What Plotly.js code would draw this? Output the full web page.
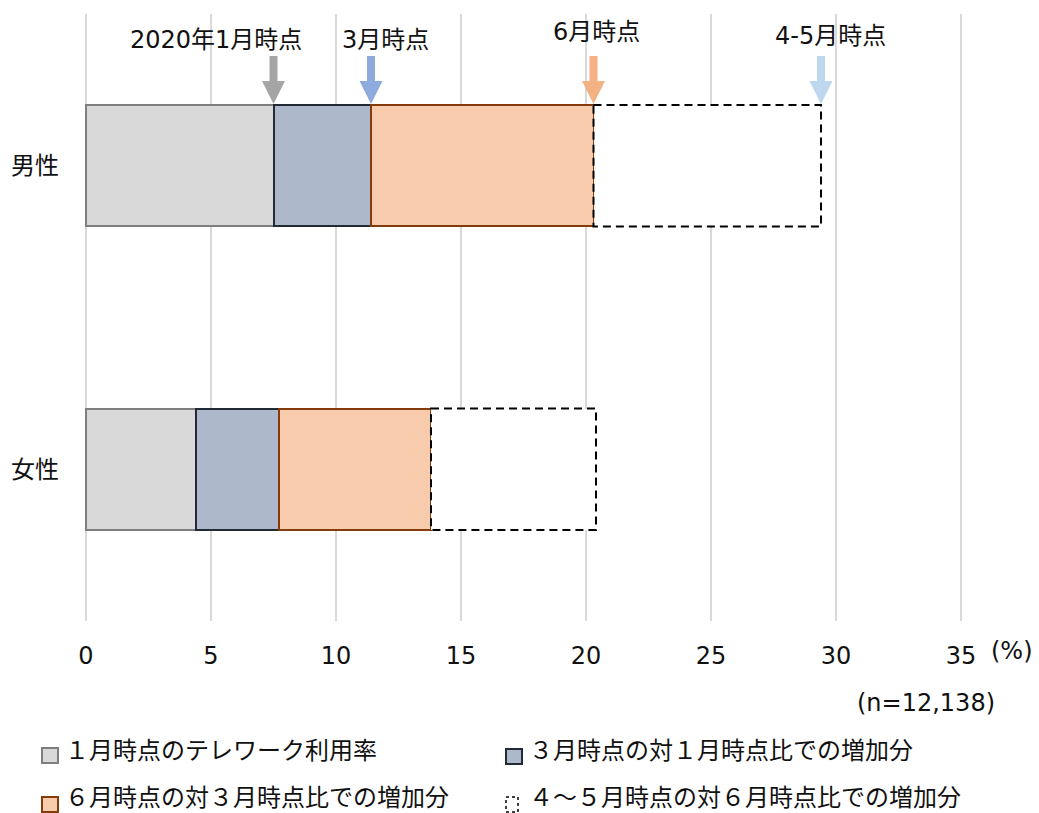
<!DOCTYPE html>
<html>
<head>
<meta charset="utf-8">
<script src="https://cdn.plot.ly/plotly-3.0.1.min.js"></script>
<style>
  html, body { margin: 0; padding: 0; background: #ffffff; }
  #chart { width: 1039px; height: 813px; }
</style>
</head>
<body>
<div id="chart"></div>
<script>
// Telework usage by gender: January base rate and the increments up to March, June and April-May
const groups = ['男性', '女性'];
const janRate = [7.5, 4.4];      // 1月時点のテレワーク利用率
const marchGain = [3.9, 3.3];    // 3月時点の対1月時点比での増加分
const juneGain = [8.9, 6.1];     // 6月時点の対3月時点比での増加分
const aprMayGain = [9.1, 6.6];   // 4～5月時点の対6月時点比での増加分

const seriesNames = [
  '１月時点のテレワーク利用率',
  '３月時点の対１月時点比での増加分',
  '６月時点の対３月時点比での増加分',
  '４～５月時点の対６月時点比での増加分'
];
const pointLabels = ['2020年1月時点', '3月時点', '6月時点', '4-5月時点'];
const tickValues = [0, 5, 10, 15, 20, 25, 30, 35];
const unitLabel = '(%)';
const sampleNote = '(n=12,138)';

// ---- styling -------------------------------------------------------------
const FONT = '"DejaVu Sans", "Noto Sans CJK JP", sans-serif';
const TEXT_COLOR = '#111111';
const fills = ['#D9D9D9', '#ADB9CA', '#F8CBAD', '#FFFFFF'];
const edges = ['#7F7F7F', '#222A35', '#843C0C', '#000000'];
const arrowColors = ['#A5A5A5', '#8FAADC', '#F4B183', '#BDD7EE'];
const BAR_WIDTH = 0.4;

// plot area in page pixels (used for items placed outside the axes);
// the x range is padded slightly so the 0 and 35 grid lines are kept
const M = { l: 84, r: 76, t: 14, b: 192 };
const X_RANGE = [-0.08, 35.08];
const W = 1039 - M.l - M.r;
const H = 813 - M.t - M.b;
const px = p => (p - M.l) / W;
const py = p => (M.t + H - p) / H;

// running totals = right edge of each segment
const segments = [janRate, marchGain, juneGain, aprMayGain];
const cumulative = [];
segments.forEach((seg, k) => {
  cumulative.push(seg.map((v, i) => +(v + (k ? cumulative[k - 1][i] : 0)).toFixed(2)));
});

// ---- traces ----------------------------------------------------------------
const traces = segments.map((seg, k) => ({
  type: 'bar',
  orientation: 'h',
  name: seriesNames[k],
  y: groups,
  x: seg,
  width: BAR_WIDTH,
  marker: {
    color: fills[k],
    line: { color: edges[k], width: k === 3 ? 0 : 2 }
  },
  showlegend: false,
  hoverinfo: 'skip'
}));

const shapes = [];
const annotations = [];

// dashed outline of the April-May increment
groups.forEach((g, i) => {
  shapes.push({
    type: 'rect', xref: 'x', yref: 'y', layer: 'above',
    x0: cumulative[2][i], x1: cumulative[3][i],
    y0: i - BAR_WIDTH / 2, y1: i + BAR_WIDTH / 2,
    line: { color: '#000000', width: 2, dash: '8px,5px' },
    fillcolor: 'rgba(0,0,0,0)'
  });
});

// down arrows marking each time point on the male bar
const arrowPath = 'M-4,49 L4,49 L4,24 L11.5,24 L0,1 L-11.5,24 L-4,24 Z';
const labelOffsets = [[-58, 40], [14, 40], [3, 32], [9, 36]]; // [x shift px, label centre y px]
cumulative.forEach((cum, k) => {
  shapes.push({
    type: 'path', layer: 'above',
    xref: 'x', yref: 'y',
    xsizemode: 'pixel', ysizemode: 'pixel',
    xanchor: cum[0], yanchor: 0 - BAR_WIDTH / 2,
    path: arrowPath,
    fillcolor: arrowColors[k],
    line: { width: 0 }
  });
  annotations.push({
    xref: 'x', yref: 'paper',
    x: cum[0], xshift: labelOffsets[k][0],
    y: py(labelOffsets[k][1]), yanchor: 'middle', xanchor: 'center',
    text: pointLabels[k], showarrow: false,
    font: { family: FONT, size: 24, color: TEXT_COLOR }
  });
});

// unit and sample size
annotations.push({
  xref: 'paper', yref: 'paper', x: px(1012), y: py(651),
  xanchor: 'center', yanchor: 'middle', text: unitLabel, showarrow: false,
  font: { family: FONT, size: 24, color: TEXT_COLOR }
});
annotations.push({
  xref: 'paper', yref: 'paper', x: px(997), y: py(703),
  xanchor: 'right', yanchor: 'middle', text: sampleNote, showarrow: false,
  font: { family: FONT, size: 24, color: TEXT_COLOR }
});

// legend, two columns
const legendSlots = [
  { sx: 42, sy: 748, tx: 64, ty: 751 },
  { sx: 506, sy: 749, tx: 528, ty: 751 },
  { sx: 42, sy: 797, tx: 64, ty: 798 },
  { sx: 506, sy: 797, tx: 528, ty: 798 }
];
legendSlots.forEach((s, k) => {
  const dashed = k === 3;
  shapes.push({
    type: 'rect', xref: 'paper', yref: 'paper',
    x0: px(s.sx), x1: px(s.sx + (dashed ? 12 : 16)),
    y0: py(s.sy), y1: py(s.sy + 15),
    fillcolor: fills[k],
    line: dashed ? { color: '#000000', width: 1.5, dash: '3px,3px' }
                 : { color: edges[k], width: 2 }
  });
  annotations.push({
    xref: 'paper', yref: 'paper', x: px(s.tx), y: py(s.ty),
    xanchor: 'left', yanchor: 'middle', text: seriesNames[k], showarrow: false,
    borderpad: 0,
    font: { family: FONT, size: 24, color: TEXT_COLOR }
  });
});

const layout = {
  width: 1039, height: 813,
  margin: M,
  paper_bgcolor: '#ffffff', plot_bgcolor: '#ffffff',
  barmode: 'stack',
  showlegend: false,
  hovermode: false,
  font: { family: FONT, size: 24, color: TEXT_COLOR },
  xaxis: {
    range: X_RANGE,
    tickmode: 'array', tickvals: tickValues, ticktext: tickValues.map(String),
    showgrid: true, gridcolor: '#D9D9D9', gridwidth: 2,
    zeroline: false, showline: false, ticks: '',
    ticklabelstandoff: 18,
    tickfont: { family: FONT, size: 24, color: TEXT_COLOR },
    fixedrange: true
  },
  yaxis: {
    type: 'category', autorange: 'reversed',
    showgrid: false, zeroline: false, showline: false, ticks: '',
    ticklabelstandoff: 24,
    tickfont: { family: FONT, size: 24, color: TEXT_COLOR },
    fixedrange: true
  },
  shapes: shapes,
  annotations: annotations
};

Plotly.newPlot('chart', traces, layout, { staticPlot: true, displayModeBar: false });
</script>
</body>
</html>
